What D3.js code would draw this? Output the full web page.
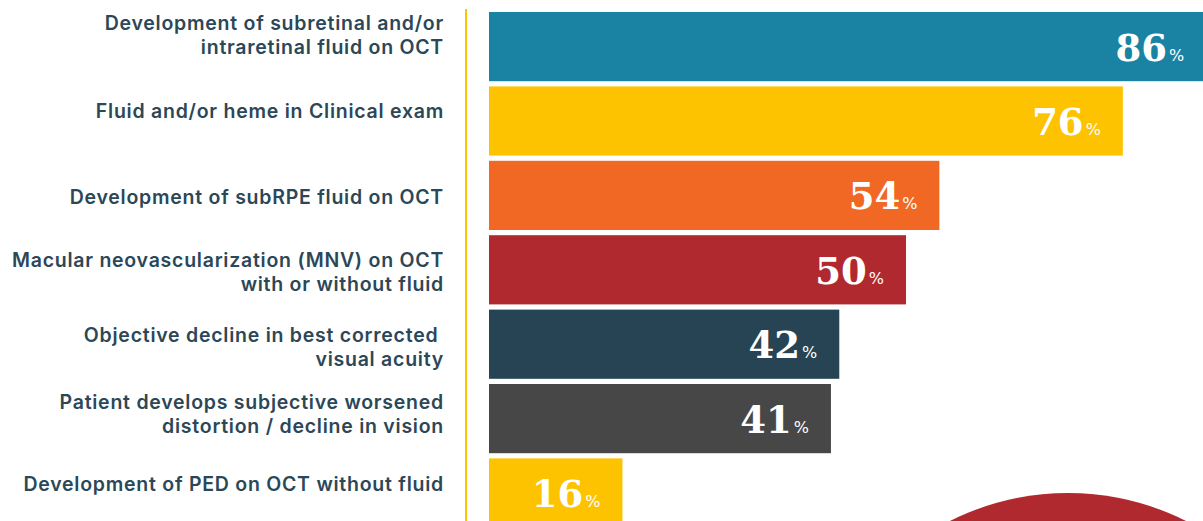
<!DOCTYPE html>
<html>
<head>
<meta charset="utf-8">
<script src="https://cdn.jsdelivr.net/npm/d3@7"></script>
<style>
  html, body { margin: 0; padding: 0; background: #fff; overflow: hidden; }
  #chart svg { display: block; }
</style>
</head>
<body>
<div id="chart"></div>
<script>
// criteria for treatment, share of respondents
const labels = [
  ["Development of subretinal and/or", "intraretinal fluid on OCT"],
  ["Fluid and/or heme in Clinical exam"],
  ["Development of subRPE fluid on OCT"],
  ["Macular neovascularization (MNV) on OCT", "with or without fluid"],
  ["Objective decline in best corrected ", "visual acuity "],
  ["Patient develops subjective worsened", "distortion / decline in vision"],
  ["Development of PED on OCT without fluid"],
];
const values = [86, 76, 54, 50, 42, 41, 16];
const colors = ["#1a83a4", "#fdc300", "#f06824", "#b0292f", "#264453", "#474748", "#fdc300"];

(function draw() {
  const width = 1203;
  const height = 521;

  // small nudges so labels sit where the original has them
  const labelShift = [-12, -10, 2, 2, 3, -5, -9];

  const svg = d3.select("#chart")
    .append("svg")
    .attr("width", width)
    .attr("height", height);

  const x = d3.scaleLinear().domain([0, 100]).range([489, 1323]);
  const y = d3.scaleBand()
    .domain(d3.range(values.length))
    .range([12, 527.6])
    .paddingInner(0.07)
    .paddingOuter(0);

  // decorative circle bottom right
  svg.append("circle")
    .attr("cx", 1068)
    .attr("cy", 756)
    .attr("r", 263)
    .attr("fill", "#b0292f");

  // yellow separator
  svg.append("line")
    .attr("x1", 466).attr("x2", 466)
    .attr("y1", 9).attr("y2", height)
    .attr("stroke", "#fdc300")
    .attr("stroke-width", 2);

  const rows = svg.append("g")
    .selectAll("g")
    .data(values)
    .join("g");

  rows.append("rect")
    .attr("x", x(0))
    .attr("y", (d, i) => y(i))
    .attr("width", d => x(d) - x(0))
    .attr("height", y.bandwidth())
    .attr("fill", (d, i) => colors[i]);

  const num = rows.append("text")
    .attr("x", d => x(d) - 22)
    .attr("y", (d, i) => y(i) + y.bandwidth() / 2 + 14)
    .attr("text-anchor", "end")
    .attr("fill", "#fff")
    .style("font-family", "'DejaVu Serif', serif")
    .style("font-weight", "bold");
  num.append("tspan")
    .style("font-size", "37px")
    .text(d => d);
  num.append("tspan")
    .style("font-size", "16px")
    .style("font-family", "'DejaVu Sans', sans-serif")
    .style("font-weight", "normal")
    .attr("dx", 2)
    .text("%");

  const lab = rows.append("text")
    .attr("text-anchor", "end")
    .attr("fill", "#2c4757")
    .style("font-family", "Inter, sans-serif")
    .style("font-weight", "600")
    .style("font-size", "19.5px")
    .style("letter-spacing", "0.75px");
  lab.each(function(d, i) {
    const lines = labels[i];
    const cy = y(i) + y.bandwidth() / 2 + labelShift[i];
    const lh = 24;
    d3.select(this).selectAll("tspan")
      .data(lines)
      .join("tspan")
      .attr("x", 444)
      .attr("y", (s, k) => cy + (k - (lines.length - 1) / 2) * lh + 7)
      .text(s => s);
  });
})();
</script>
</body>
</html>
